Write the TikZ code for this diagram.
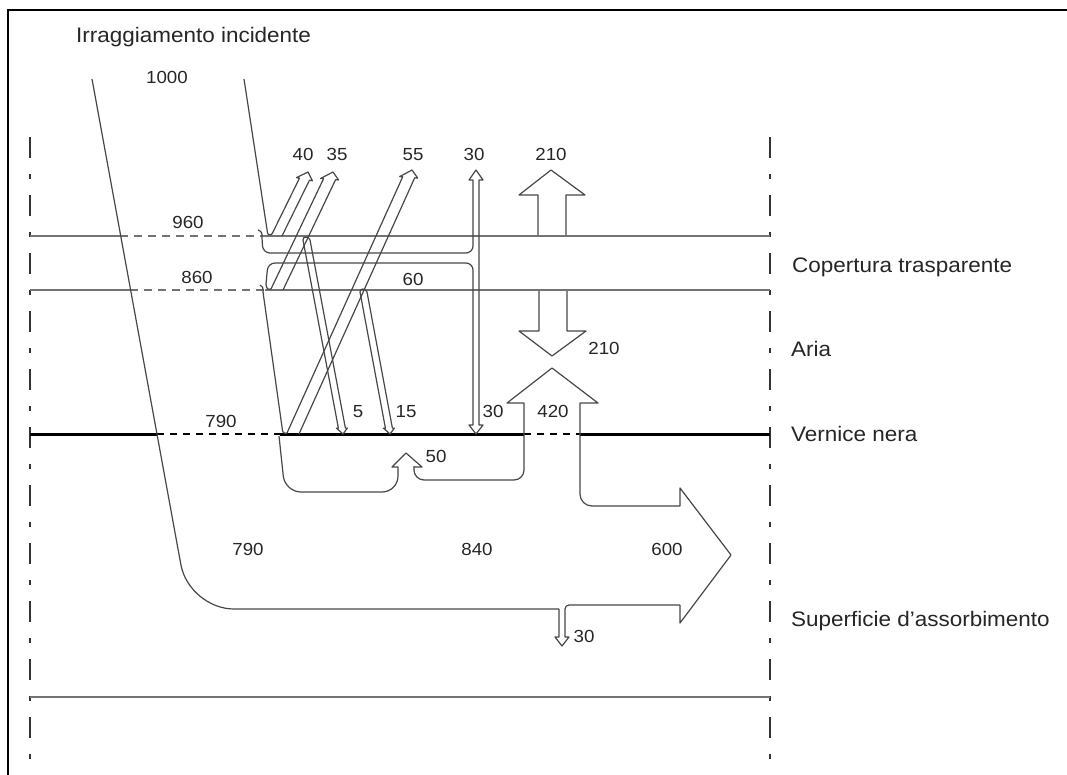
\documentclass[tikz,border=0pt]{standalone}
\usepackage{fontspec}
\setmainfont{Liberation Sans}[FakeStretch=1.07]
\usetikzlibrary{calc}
\definecolor{flowc}{gray}{0.28}
\definecolor{coverc}{gray}{0.45}
\tikzset{
  flow/.style={draw=flowc, line width=1.2pt, line join=round},
  cover/.style={draw=coverc, line width=1.6pt},
  coverdash/.style={draw=coverc, line width=1.4pt, dash pattern=on 8pt off 6pt},
  vern/.style={draw=black, line width=3pt},
  verndash/.style={draw=black, line width=1.1pt, dash pattern=on 7pt off 6pt},
  dashdot/.style={draw=black!80, line width=1.3pt, dash pattern=on 21pt off 16pt on 5pt off 16pt},
  num/.style={font=\fontsize{17.5}{20}\selectfont, inner sep=0pt, anchor=base, text=black!85},
  lab/.style={font=\fontsize{21}{24}\selectfont, inner sep=0pt, anchor=base west, text=black!85},
}
% hollow slanted arrow: #1 base left, #2 base right, #3 tip, #4 head length, #5 barb
\newcommand\harrow[5]{%
  \coordinate (hM) at ($(#1)!.5!(#2)$);
  \coordinate (hH) at ($(#3)!#4!(hM)$);
  \coordinate (hL) at ($(#1)+(hH)-(hM)$);
  \coordinate (hR) at ($(#2)+(hH)-(hM)$);
  \draw[flow] (#1) -- (hL) -- ($(hL)!-#5!(hR)$) -- (#3) -- ($(hR)!-#5!(hL)$) -- (hR) -- (#2);
}
% same with a rounded closed start
\newcommand\harrowcap[5]{%
  \coordinate (hM) at ($(#1)!.5!(#2)$);
  \coordinate (hH) at ($(#3)!#4!(hM)$);
  \coordinate (hL) at ($(#1)+(hH)-(hM)$);
  \coordinate (hR) at ($(#2)+(hH)-(hM)$);
  \draw[flow] (#1) -- (hL) -- ($(hL)!-#5!(hR)$) -- (#3) -- ($(hR)!-#5!(hL)$) -- (hR) -- (#2)
     .. controls ($(#2)!-4pt!(hR)$) and ($(#1)!-4pt!(hL)$) .. (#1);
}
\begin{document}
\begin{tikzpicture}[x=1pt,y=-1pt]
\useasboundingbox[fill=white] (0,0) rectangle (1067,774);
% outer frame
\draw[line width=2pt] (8,800) -- (8,10) -- (1100,10);
% dash-dot verticals
\draw[dashdot] (30,137) -- (30,790);
\draw[dashdot] (770,137) -- (770,790);
% cover lines
\draw[cover] (30,236) -- (120,236);
\draw[coverdash] (120,236) -- (262,236);
\draw[cover] (262,236) -- (770,236);
\draw[cover] (30,290) -- (130,290);
\draw[coverdash] (130,290) -- (265,290);
\draw[cover] (265,290) -- (770,290);
% black paint
\draw[vern] (30,434) -- (157,434);
\draw[verndash] (157,434) -- (280,434);
\draw[vern] (280,434) -- (524,434);
\draw[verndash] (524,434) -- (580,434);
\draw[vern] (580,434) -- (770,434);
% absorber bottom
\draw[cover, line width=2.2pt] (30,697) -- (770,697);

% ---- main flow outline (left side and absorbed part)
\draw[flow, rounded corners=45pt] (92,79) -- (189,609) -- (559,609);
\draw[flow] (559,609) -- (559,637) -- (555,637) -- (562,646) -- (569,637) -- (565,637) -- (565,614);
\draw[flow, rounded corners=4pt] (565,614) -- (565,605) -- (680,605);
\draw[flow] (680,605) -- (680,623) -- (731,555) -- (680,488) -- (680,506);
\draw[flow, rounded corners=12pt] (680,506) -- (580,506) -- (580,470);
\draw[flow] (580,470) -- (580,403) -- (598,403) -- (552,368) -- (507,403) -- (524,403) -- (524,462);
\draw[flow, rounded corners=10pt] (524,462) -- (524,480) -- (414,480) -- (414,466);
\draw[flow] (414,467) -- (422,467) -- (406,453) -- (392,467) -- (398,467) -- (398,472);
\draw[flow, rounded corners=16pt] (398,472) -- (398,492) -- (285,492) -- (279,436);

% ---- right boundary of incident beam
\coordinate (a40l) at (272,234);
\coordinate (a40r) at (282,236);
\coordinate (a40t) at (308,172);
\draw[flow, rounded corners=3pt] (244,79) -- (268,236) -- (a40l);
\harrow{a40l}{a40r}{a40t}{8pt}{3pt}
% cover absorption band (60) and 30/30 arrows
\draw[flow] (258,230) .. controls (262,232) .. (262,238);
\draw[flow, rounded corners=7pt] (262,238) -- (263,253) -- (473,253) -- (473,238);
\draw[flow] (473,238) -- (473,180) -- (469,180) -- (476,170) -- (483,180) -- (479,180)
   -- (479,425) -- (483,425) -- (476,434) -- (469,425) -- (473,425) -- (473,278);
\draw[flow, rounded corners=7pt] (473,278) -- (473,263) -- (268,263) -- (266,284);
\coordinate (a35l) at (271,289);
\coordinate (a35r) at (283,290);
\coordinate (a35t) at (333,172);
\draw[flow, rounded corners=3pt] (266,284) -- (267,290) -- (a35l);
\harrow{a35l}{a35r}{a35t}{8pt}{3pt}
% beam in the air gap
\draw[flow] (260,285) .. controls (263,287) .. (263,292);
\coordinate (a55l) at (287,433);
\coordinate (a55r) at (299,434);
\coordinate (a55t) at (412,170);
\draw[flow, rounded corners=3pt] (263,292) -- (283,434) -- (a55l);
\harrow{a55l}{a55r}{a55t}{8pt}{3pt}
% re-reflected arrows 5 and 15
\coordinate (a5l) at (303,240);
\coordinate (a5r) at (310,240);
\coordinate (a5t) at (343,434);
\harrowcap{a5l}{a5r}{a5t}{6pt}{2pt}
\coordinate (a15l) at (360,292);
\coordinate (a15r) at (367,292);
\coordinate (a15t) at (390,434);
\harrowcap{a15l}{a15r}{a15t}{6pt}{2pt}

% ---- 210 arrows
\draw[flow] (538,235) -- (538,195) -- (519,195) -- (551,170) -- (585,195) -- (566,195) -- (566,235);
\draw[flow] (539,291) -- (539,331) -- (519,331) -- (552,356) -- (586,331) -- (567,331) -- (567,291);

% ---- labels
\node[lab] (tIrr) at (76,42) {Irraggiamento incidente};
\node[num] (n1000) at (167,83) {1000};
\node[num] (n960) at (188,228) {960};
\node[num] (n860) at (197,283) {860};
\node[num] (n40) at (303,160) {40};
\node[num] (n35) at (337,160) {35};
\node[num] (n55) at (413,160) {55};
\node[num] (n30a) at (474,160) {30};
\node[num] (n210a) at (551,160) {210};
\node[num] (n60) at (413,285) {60};
\node[num] (n210b) at (604,354) {210};
\node[num] (n790a) at (221,427) {790};
\node[num] (n5) at (358,417) {5};
\node[num] (n15) at (406,417) {15};
\node[num] (n30b) at (493,417) {30};
\node[num] (n420) at (553,417) {420};
\node[num] (n50) at (436,462) {50};
\node[num] (n790b) at (248,555) {790};
\node[num] (n840) at (477,555) {840};
\node[num] (n600) at (667,555) {600};
\node[num] (n30c) at (584,642) {30};
\node[lab] (lCop) at (792,272) {Copertura trasparente};
\node[lab] (lAria) at (791,356) {Aria};
\node[lab] (lVer) at (791,441) {Vernice nera};
\node[lab] (lSup) at (791,626) {Superficie d'assorbimento};
\end{tikzpicture}
\end{document}
